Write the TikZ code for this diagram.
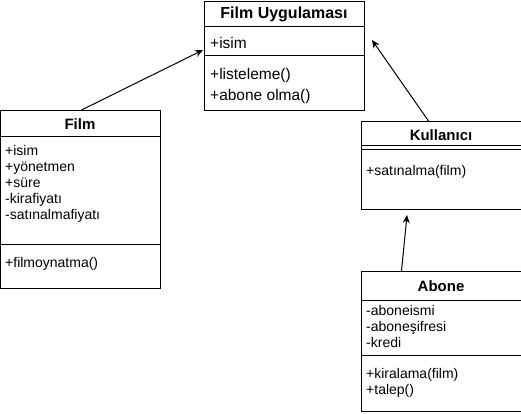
\documentclass[tikz,border=0pt]{standalone}
\usepackage{fontspec}
\setmainfont{Liberation Sans}
\usetikzlibrary{arrows.meta}
\begin{document}
\begin{tikzpicture}[x=1pt,y=-1pt,
  box/.style={draw=black,line width=1pt,anchor=north west,inner sep=0pt,minimum width=160pt},
  title/.style={font=\fontsize{15}{18}\selectfont\bfseries,inner sep=0pt,anchor=center},
  txt/.style={font=\fontsize{14}{16}\selectfont,inner sep=0pt,anchor=north west,align=left},
  bigtxt/.style={font=\fontsize{15.5}{21}\selectfont,inner sep=0pt,anchor=north west,align=left},
  sep/.style={draw=black,line width=1pt},
  arr/.style={draw=black,line width=1pt,-{Stealth[length=8pt,width=7pt]}}]
\useasboundingbox (0,0) rectangle (521,414);
% Film Uygulamasi
\node[box,minimum height=109pt] (fu) at (204,1) {};
\node[title,font=\fontsize{16}{19}\selectfont\bfseries] (fut) at (284,14.5) {Film Uygulaması};
\draw[sep] (204,27) -- (364,27);
\node[bigtxt] (fua) at (210,33.5) {\strut+isim};
\draw[sep] (204,56) -- (364,56);
\node[bigtxt] (fum) at (210,64.5) {\strut+listeleme()\\+abone olma()};
% Film
\node[box,minimum height=178pt] (film) at (0,110) {};
\node[title] (filmt) at (80,124) {Film};
\draw[sep] (0,137) -- (160,137);
\node[txt] (filma) at (5,144.5) {\strut+isim\\+yönetmen\\+süre\\-kirafiyatı\\-satınalmafiyatı};
\draw[sep] (0,244) -- (160,244);
\node[txt] (filmm) at (5,256.5) {\strut+filmoynatma()};
% Kullanici
\node[box,minimum height=88pt] (ku) at (361,121) {};
\node[title] (kut) at (441,135) {Kullanıcı};
\draw[sep] (361,146) -- (521,146);
\draw[sep] (361,150) -- (521,150);
\node[txt] (kua) at (366,164.5) {\strut+satınalma(film)};
% Abone
\node[box,minimum height=140pt] (ab) at (361,271) {};
\node[title] (abt) at (441,286) {Abone};
\draw[sep] (361,300) -- (521,300);
\node[txt] (aba) at (366,304.5) {\strut-aboneismi\\-aboneşifresi\\-kredi};
\draw[sep] (361,355) -- (521,355);
\node[txt] (abm) at (366,367.5) {\strut+kiralama(film)\\+talep()};
% arrows
\coordinate (c1) at (203,50);
\coordinate (c2) at (372,40);
\coordinate (c3) at (407,215);
\draw[arr] (film.north) ++(1,0) -- (c1);
\draw[arr] ([xshift=-13pt]ku.north) -- (c2);
\draw[arr] ([xshift=-40pt]ab.north) -- (c3);
\end{tikzpicture}
\end{document}
